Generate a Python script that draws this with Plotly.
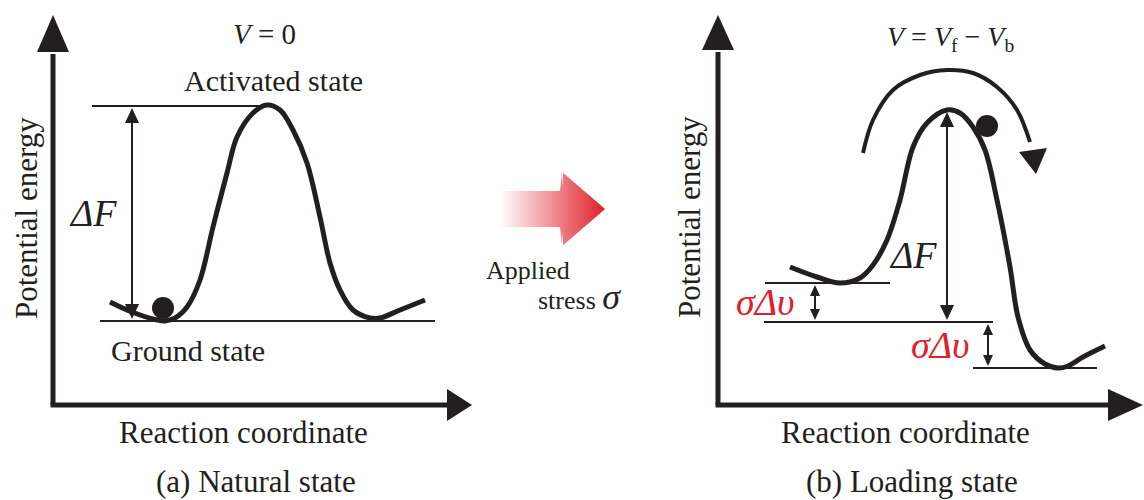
import plotly.graph_objects as go

# ---------------- data (diagram coordinates, pixel space) ----------------
# Panel (a) energy curve
curve_a_x = [110, 132, 157, 165, 175, 187, 200, 213, 227, 237, 253, 267, 280, 293, 307, 320, 330, 340, 353, 370, 380, 400, 425]
curve_a_y = [302, 312, 320, 321, 318, 307, 280, 227, 173, 137, 113, 105, 110, 130, 163, 217, 263, 290, 310, 318, 318, 310, 300]
# Panel (b) energy curve
curve_b_x = [790, 817, 840, 860, 873, 887, 900, 913, 927, 947, 960, 973, 985, 997, 1010, 1018, 1030, 1045, 1058, 1068, 1083, 1105]
curve_b_y = [267, 277, 283, 278, 265, 240, 200, 147, 123, 110, 113, 127, 150, 200, 267, 317, 350, 364, 368, 366, 357, 346]
# Curved arrow over the barrier in (b)
arc_x = [863, 873, 893, 920, 947, 973, 997, 1017, 1030]
arc_y = [153, 120, 90, 75, 70, 73, 87, 110, 142]

# energy levels: (x0, x1, y)
levels_a = [(92, 268, 106), (100, 435, 321)]
levels_b = [(765, 890, 283), (764, 993, 322), (973, 1097, 368)]
# double arrows: (x, y_top, y_bottom)
darrows = [(132, 108, 319), (947, 112, 320), (815, 285, 320), (988, 324, 366)]
# balls: (x, y, r)
balls = [(163, 308, 11), (987, 126, 11)]

# ---------------------------------------------------------------------------
INK = "#231f20"
RED = "#e0202a"
FONT = "Liberation Serif"

fig = go.Figure()
shapes = []
annotations = []


def tri(p1, p2, p3, color=INK):
    shapes.append(dict(type="path", path=f"M{p1[0]},{p1[1]} L{p2[0]},{p2[1]} L{p3[0]},{p3[1]} Z",
                       xref="x", yref="y", fillcolor=color, line=dict(width=0)))


def line(x0, y0, x1, y1, w, color=INK):
    shapes.append(dict(type="line", x0=x0, y0=y0, x1=x1, y1=y1, xref="x", yref="y",
                       line=dict(color=color, width=w)))


# axes (a) and (b)
for (ax, top, bottom, right, basey, basex) in [(53, 15, 405, 472, 52, 447), (718, 15, 405, 1143, 50, 1108)]:
    line(ax, bottom, ax, basey + 2, 5)
    line(ax - 2.5, bottom, basex, bottom, 5)
    tri((ax, top), (ax - 16, basey), (ax + 16, basey))
    tri((right, bottom), (basex, bottom - 16), (basex, bottom + 16))

# levels
for x0, x1, y in levels_a + levels_b:
    line(x0, y, x1, y, 2)

# double-headed arrows
for x, yt, yb in darrows:
    big = (yb - yt) > 100
    L = 15 if big else 11
    hw = 7 if big else 5
    line(x, yt + L - 1, x, yb - L + 1, 2)
    tri((x, yt), (x - hw, yt + L), (x + hw, yt + L))
    tri((x, yb), (x - hw, yb - L), (x + hw, yb - L))

# curves
for cx, cy in [(curve_a_x, curve_a_y), (curve_b_x, curve_b_y)]:
    fig.add_trace(go.Scatter(x=cx, y=cy, mode="lines", line=dict(color=INK, width=5, shape="spline", smoothing=1.0),
                             hoverinfo="skip", showlegend=False))
fig.add_trace(go.Scatter(x=arc_x, y=arc_y, mode="lines", line=dict(color=INK, width=4, shape="spline", smoothing=1.0),
                         hoverinfo="skip", showlegend=False))
tri((1019, 152), (1047, 148), (1036, 174))

# balls
for bx, by, r in balls:
    shapes.append(dict(type="circle", x0=bx - r, x1=bx + r, y0=by - r, y1=by + r, xref="x", yref="y",
                       fillcolor=INK, line=dict(width=0)))

# gradient arrow (applied stress)
x_start, x_neck, x_tip, yc, shaft_h, head_h = 500, 562, 605, 209, 18, 37
N = 70


def half_height(x):
    if x <= x_neck:
        return shaft_h
    return head_h * max(0.0, (x_tip - x)) / (x_tip - x_neck)


for i in range(N):
    xa = x_start + (x_tip - x_start) * i / N
    xb = min(x_start + (x_tip - x_start) * (i + 1) / N + 0.6, x_tip)
    t = (i + 0.5) / N
    r = round(255 + (224 - 255) * t)
    g = round(255 + (32 - 255) * t)
    b = round(255 + (42 - 255) * t)
    col = f"rgb({r},{g},{b})"
    ha = half_height(xa)
    hb = half_height(xb)
    if xa < x_neck < xb:
        ha = shaft_h
    shapes.append(dict(type="path",
                       path=f"M{xa},{yc-ha} L{xb},{yc-hb} L{xb},{yc+hb} L{xa},{yc+ha} Z",
                       xref="x", yref="y", fillcolor=col, line=dict(width=0)))


def text(x, y, s, size, color=INK, angle=0, xanchor="center"):
    annotations.append(dict(x=x, y=y, xref="x", yref="y", text=s, showarrow=False,
                            font=dict(family=FONT, size=size, color=color), textangle=angle,
                            xanchor=xanchor, yanchor="middle"))


# texts panel (a)
text(264, 34, "<i>V</i> = 0", 29)
text(273, 80, "Activated state", 30)
text(188, 350, "Ground state", 30)
text(93, 213, "<i>ΔF</i>", 38)
text(26, 218, "Potential energy", 31, angle=-90)
text(243, 432, "Reaction coordinate", 31)
text(256, 481, "(a) Natural state", 31)

# middle
text(484, 270, "Applied", 26, xanchor="left")
text(536, 297, "stress <i><span style='font-size:36px'>σ</span></i>", 26, xanchor="left")

# texts panel (b)
text(950, 38, "<i>V</i> = <i>V</i><sub>f</sub> − <i>V</i><sub>b</sub>", 28)
text(913, 255, "<i>ΔF</i>", 38)
text(765, 302, "<i>σΔυ</i>", 38, color=RED)
text(940, 345, "<i>σΔυ</i>", 38, color=RED)
text(689, 217, "Potential energy", 31, angle=-90)
text(905, 432, "Reaction coordinate", 31)
text(912, 481, "(b) Loading state", 31)

fig.update_layout(
    width=1144, height=500,
    margin=dict(l=0, r=0, t=0, b=0),
    paper_bgcolor="white", plot_bgcolor="white",
    font=dict(family=FONT),
    xaxis=dict(range=[0, 1144], visible=False, fixedrange=True),
    yaxis=dict(range=[500, 0], visible=False, fixedrange=True),
    shapes=shapes, annotations=annotations, showlegend=False,
)
fig.write_html("out.html")
